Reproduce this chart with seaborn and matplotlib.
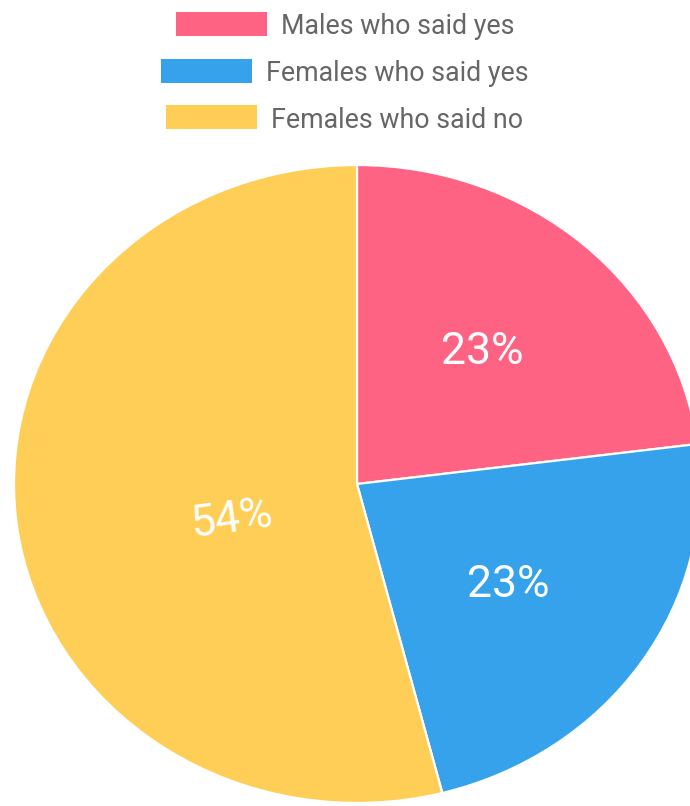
import matplotlib
matplotlib.use("Agg")
import matplotlib.pyplot as plt
from matplotlib.patches import Rectangle
import numpy as np
import seaborn as sns

# Survey answers (share of respondents, %)
categories = ["Males who said yes", "Females who said yes", "Females who said no"]
shares = [23, 23, 54]
label_texts = ["23%", "23%", "54%"]

sns.set_theme(style="white")
plt.rcParams["font.family"] = ["Roboto", "DejaVu Sans"]

colors = sns.color_palette(["#FF6384", "#36A2EB", "#FFCE56"])

W, H = 690, 806
dpi = 100
fig = plt.figure(figsize=(W / dpi, H / dpi), dpi=dpi)
fig.patch.set_facecolor("white")

# Pie area (slightly wider than tall), in pixel units from top-left
cx, cy, rx, ry = 357, 484, 343, 319
ax = fig.add_axes([(cx - rx) / W, (H - cy - ry) / H, 2 * rx / W, 2 * ry / H])
wedges, _ = ax.pie(
    shares,
    colors=colors,
    startangle=90,
    counterclock=False,
    wedgeprops=dict(edgecolor="white", linewidth=1.6),
)
ax.set_aspect("auto")
ax.set_xlim(-1, 1)
ax.set_ylim(-1, 1)
ax.axis("off")

# Percentage labels inside the slices
label_radius = [0.55, 0.542, 0.38]
label_shift = [0, 1.6, -9.6]
label_rot = [0, 0, 8]
total = float(sum(shares))
cum = 0.0
for v, txt, r, sh, rot in zip(shares, label_texts, label_radius, label_shift, label_rot):
    mid = 90 - 360 * (cum + v / 2) / total - sh
    cum += v
    a = np.deg2rad(mid)
    ax.text(r * np.cos(a), r * np.sin(a), txt, color="white", fontsize=32,
            ha="center", va="center", rotation=rot)

# Legend: each row centred horizontally, box then label
fig.canvas.draw()
renderer = fig.canvas.get_renderer()
row_y = [24, 70.5, 117]
box_w, box_h, gap = 91, 24, 14
center_x = 345
for name, col, yc in zip(categories, colors, row_y):
    t = fig.text(0, 1 - yc / H, name, color="#666666", fontsize=19.3,
                 ha="left", va="center_baseline")
    tw = t.get_window_extent(renderer).width
    total_w = box_w + gap + tw
    x0 = center_x - total_w / 2
    fig.patches.append(Rectangle((x0 / W, 1 - (yc + box_h / 2) / H), box_w / W, box_h / H,
                                 transform=fig.transFigure, facecolor=col,
                                 edgecolor="none", figure=fig))
    t.set_x((x0 + box_w + gap) / W)

fig.savefig("out.png", dpi=dpi, facecolor="white")
